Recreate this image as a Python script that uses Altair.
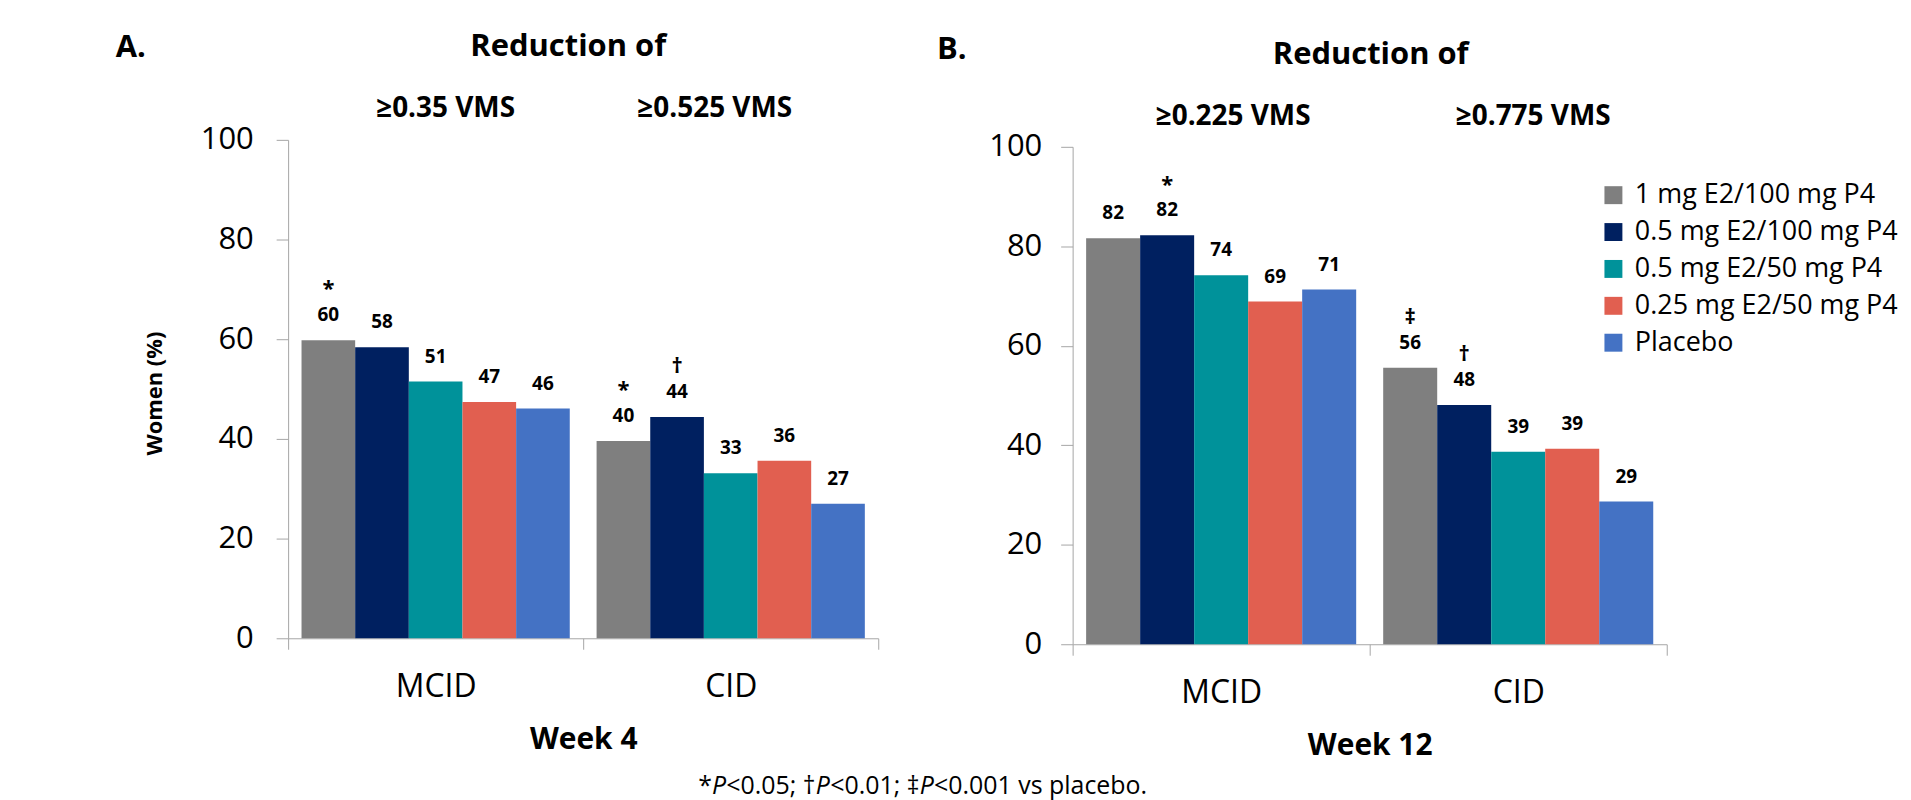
import altair as alt
import pandas as pd

FONT = "Open Sans"

groups = ["1 mg E2/100 mg P4", "0.5 mg E2/100 mg P4", "0.5 mg E2/50 mg P4",
          "0.25 mg E2/50 mg P4", "Placebo"]
colors = ["#7F7F7F", "#002060", "#00929A", "#E15F50", "#4472C4"]
categories = ["MCID", "CID"]
y_ticks = [0, 20, 40, 60, 80, 100]

# Week 4
wk4_mcid = [59.8, 58.4, 51.5, 47.4, 46.1]
wk4_cid = [39.6, 44.4, 33.1, 35.6, 27.0]
wk4_mcid_lbl = ["60", "58", "51", "47", "46"]
wk4_cid_lbl = ["40", "44", "33", "36", "27"]
wk4_mcid_sig = ["*", "", "", "", ""]
wk4_cid_sig = ["*", "\u2020", "", "", ""]

# Week 12
wk12_mcid = [81.6, 82.2, 74.2, 68.9, 71.3]
wk12_cid = [55.6, 48.1, 38.7, 39.3, 28.7]
wk12_mcid_lbl = ["82", "82", "74", "69", "71"]
wk12_cid_lbl = ["56", "48", "39", "39", "29"]
wk12_mcid_sig = ["", "*", "", "", ""]
wk12_cid_sig = ["\u2021", "\u2020", "", "", ""]


def make_df(vm, vc, lm, lc, sm, sc):
    rows = []
    for cat, vals, lbls, sigs in (("MCID", vm, lm, sm), ("CID", vc, lc, sc)):
        for g, v, l, s in zip(groups, vals, lbls, sigs):
            rows.append({"cat": cat, "group": g, "value": v, "lbl": l, "sig": s})
    return pd.DataFrame(rows)


df4 = make_df(wk4_mcid, wk4_cid, wk4_mcid_lbl, wk4_cid_lbl, wk4_mcid_sig, wk4_cid_sig)
df12 = make_df(wk12_mcid, wk12_cid, wk12_mcid_lbl, wk12_cid_lbl, wk12_mcid_sig, wk12_cid_sig)
one = pd.DataFrame({"a": [0]})
GRAY = "#A6A6A6"


def note(text, x, y, size, weight="bold", align="center", style="normal"):
    return alt.Chart(one).mark_text(
        text=text, font=FONT, fontSize=size, fontWeight=weight, fontStyle=style,
        color="black", align=align, baseline="middle"
    ).encode(x=alt.value(x), y=alt.value(y))


def panel(df, width, height, y_range, xtitle, ytitle, legend, label_pad):
    yaxis = dict(values=y_ticks, grid=False, labelFont=FONT, labelFontSize=31,
                 labelColor="black", labelPadding=label_pad, tickSize=12,
                 tickColor=GRAY, domainColor=GRAY)
    if ytitle:
        yaxis.update(title=ytitle, titleFont=FONT, titleFontSize=22, titleFontWeight="bold",
                     titleColor="black", titleAngle=270, titleX=-134, titleY=254,
                     titleAlign="center", titleBaseline="middle")
    else:
        yaxis.update(title=None)
    x = alt.X("cat:N", sort=categories,
              scale=alt.Scale(paddingInner=0, paddingOuter=0),
              axis=alt.Axis(title=xtitle, labelAngle=0, labelFont=FONT, labelFontSize=32,
                            labelColor="black", labelBaseline="middle", labelPadding=37,
                            tickBand="extent", tickSize=11, tickColor=GRAY,
                            domainColor=GRAY, grid=False, titleFont=FONT,
                            titleFontSize=30, titleFontWeight="bold", titleColor="black",
                            titleX=width / 2, titleY=102, titleAlign="center",
                            titleBaseline="middle"))
    xo = alt.XOffset("group:N", sort=groups,
                     scale=alt.Scale(paddingInner=0, paddingOuter=0.25))
    y = alt.Y("value:Q", scale=alt.Scale(domain=[0, 100], range=y_range, nice=False),
              axis=alt.Axis(**yaxis))
    color = alt.Color("group:N", sort=groups,
                      scale=alt.Scale(domain=groups, range=colors), legend=legend)
    bars = alt.Chart(df).mark_bar().encode(x=x, xOffset=xo, y=y, color=color)
    vals = alt.Chart(df).mark_text(dy=-25, font=FONT, fontSize=19, fontWeight="bold",
                                   color="black", baseline="middle").encode(
        x=x, xOffset=xo, y=y, text="lbl:N")
    sigs = alt.Chart(df).mark_text(dy=-51, font=FONT, fontSize=22, fontWeight="bold",
                                   color="black", baseline="middle").encode(
        x=x, xOffset=xo, y=y, text="sig:N")
    return bars, vals, sigs


# Panel A
wA, hA = 592, 500
barsA, valsA, sigsA = panel(df4, wA, hA, [500, 0], "Week 4", "Women (%)", None, 23)

# footnote with italic P segments
cw = {'*': .547, 'P': .58, '<': .572, '0': .572, '1': .572, '5': .572, '.': .266,
      ';': .266, ' ': .26, '\u2020': .508, '\u2021': .508, 'v': .513, 's': .477,
      'p': .613, 'l': .257, 'a': .556, 'c': .476, 'e': .561, 'b': .613, 'o': .604}
segs = [("*", "normal"), ("P", "italic"), ("<0.05; \u2020", "normal"), ("P", "italic"),
        ("<0.01; \u2021", "normal"), ("P", "italic"), ("<0.001 vs placebo.", "normal")]
FN = 25
widths = [sum(cw.get(c, .55) for c in s) * FN for s, _ in segs]
x0 = 637 - sum(widths) / 2
foot = []
for (s, st), wd in zip(segs, widths):
    foot.append(note(s, x0, 648, FN, weight="normal", align="left", style=st))
    x0 += wd

panelA = alt.layer(
    barsA, valsA, sigsA,
    note("A.", -173, -92, 31, align="left"),
    note("Reduction of", 281, -93, 31),
    note("\u22650.35 VMS", 158, -31, 28),
    note("\u22650.525 VMS", 428, -31, 28),
    *foot
).properties(width=wA, height=hA)

# Panel B
wB, hB = 596, 506
legB = alt.Legend(title=None, orient="none", legendX=529, legendY=42, symbolType="square",
                  symbolSize=324, symbolStrokeWidth=0, symbolOpacity=1, labelFont=FONT,
                  labelFontSize=27, labelColor="black", labelOffset=8, rowPadding=9,
                  padding=0, labelLimit=0)
barsB, valsB, sigsB = panel(df12, wB, hB, [506, 7], "Week 12", None, legB, 19)
panelB = alt.layer(
    barsB, valsB, sigsB,
    note("B.", -136, -90, 31, align="left"),
    note("Reduction of", 299, -85, 31),
    note("\u22650.225 VMS", 161, -23, 28),
    note("\u22650.775 VMS", 462, -23, 28),
).properties(width=wB, height=hB)

chart = alt.hconcat(panelA, panelB, spacing=1076 - 289 - wA, bounds="flush").resolve_scale(
    x="independent", y="independent", color="independent", xOffset="independent"
).resolve_legend(color="independent").properties(
    padding={"left": 108, "top": 22, "right": 5, "bottom": 6}
).configure_view(stroke=None)

chart.save("out.html", embed_options={"renderer": "svg", "actions": False})
